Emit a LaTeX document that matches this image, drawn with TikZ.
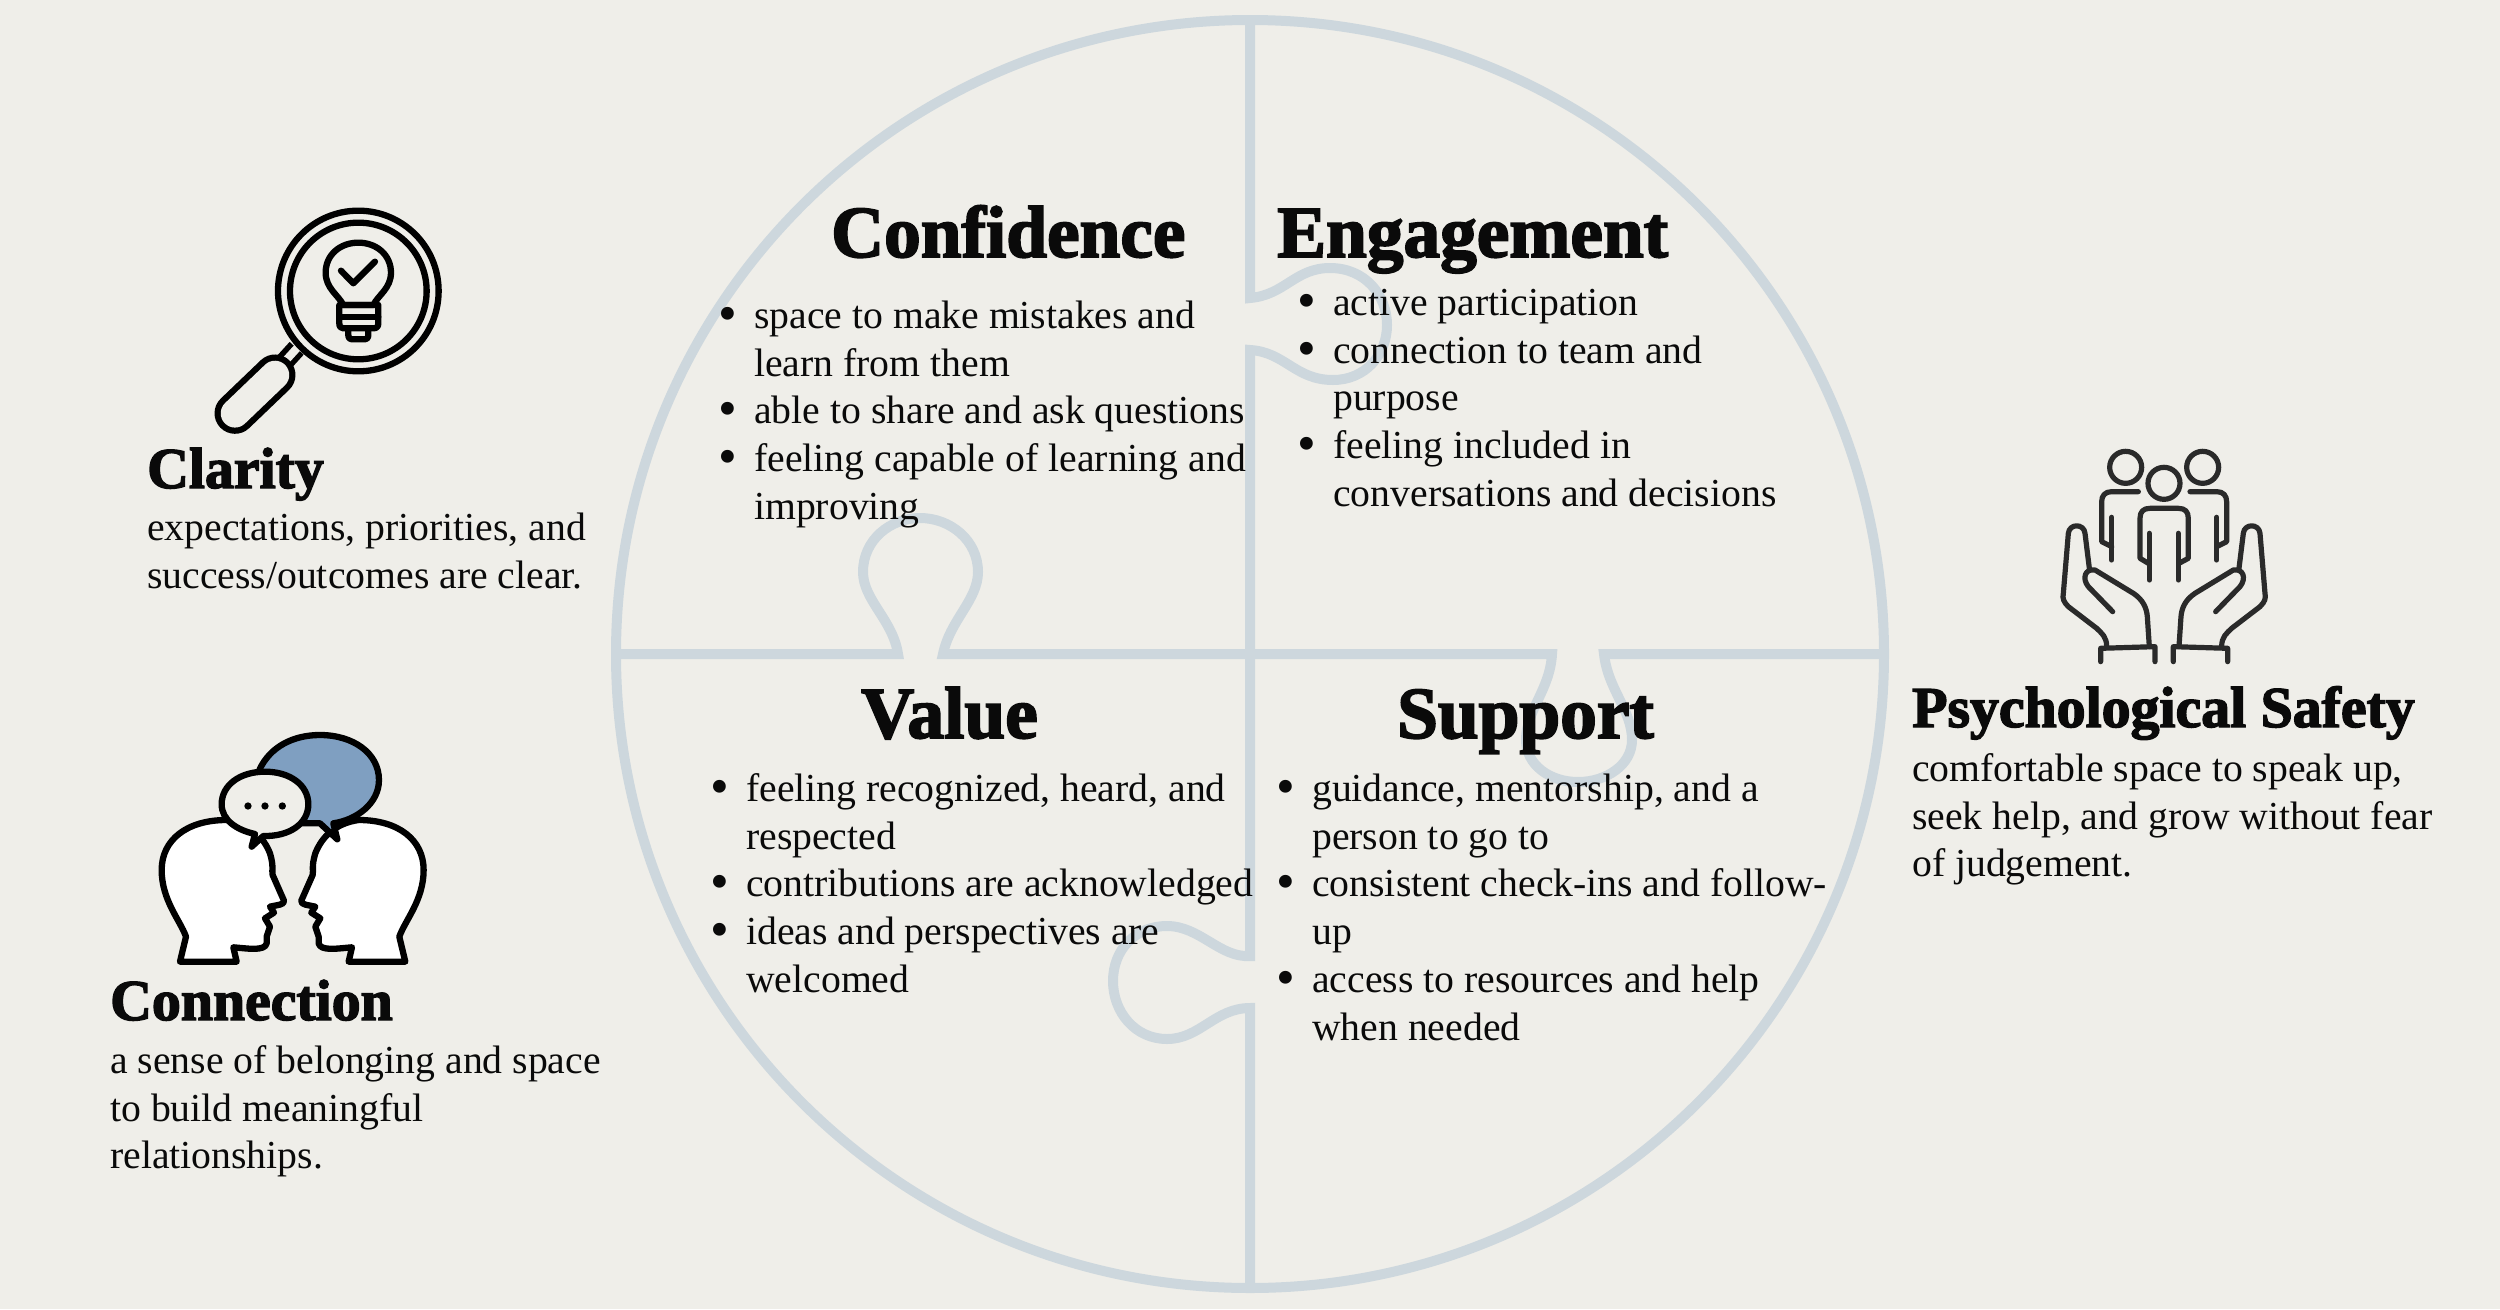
\documentclass[tikz,border=0pt]{standalone}
\usepackage{fontspec}
\setmainfont{Liberation Serif}
\newfontfamily\ttlfont[UprightFont={* Bold},FakeBold=2.5]{Liberation Serif}
\definecolor{bgc}{HTML}{EFEEE9}
\definecolor{puz}{HTML}{CDD7DD}
\definecolor{ink}{HTML}{0A0A0A}
\definecolor{blueb}{HTML}{7F9FC1}
\definecolor{dark}{HTML}{2A2A2A}
\newcommand{\bl}{\makebox[0pt][r]{\makebox[36pt][l]{\raisebox{-3pt}{\scalebox{1.35}{•}}}}}
\newcommand{\fl}{\rule{0pt}{30pt}}
\tikzset{
  puzzle/.style={draw=puz,line width=10pt,line join=miter},
  bigtitle/.style={inner sep=0pt,anchor=base west,text=ink,font=\ttlfont\fontsize{73.3}{73}\selectfont},
  sidetitle/.style={inner sep=0pt,anchor=base west,text=ink,font=\ttlfont\fontsize{57.8}{58}\selectfont},
  bodytext/.style={inner sep=0pt,anchor=north west,align=left,text=ink,font=\fontsize{39.7}{47.8}\selectfont},
  icon/.style={draw=black,line width=6.3pt,line cap=round,line join=round},
  handicon/.style={draw=dark,line width=5.2pt,line cap=round,line join=round}
}
\begin{document}
\begin{tikzpicture}[x=1pt,y=-1pt]
\useasboundingbox (0,0) rectangle (2500,1309);
\fill[bgc] (0,0) rectangle (2500,1309);
% puzzle
\draw[puzzle] (1250,654) circle[radius=634];
\draw[puzzle] (1250,22) -- (1250,298) .. controls (1285,295) and (1295,268) .. (1330,268) .. controls (1365,268) and (1387,295) .. (1387,325) .. controls (1387,355) and (1365,380) .. (1333,380) .. controls (1295,380) and (1285,352) .. (1250,350) -- (1250,956) .. controls (1220,958) and (1200,926) .. (1167,926) .. controls (1135,926) and (1113,950) .. (1113,981) .. controls (1113,1012) and (1135,1039) .. (1167,1039) .. controls (1200,1039) and (1215,1008) .. (1250,1008) -- (1250,1285);
\draw[puzzle] (616,654) -- (898,654) .. controls (893,620) and (863,600) .. (863,572) .. controls (863,540) and (890,518) .. (920,518) .. controls (950,518) and (978,540) .. (978,572) .. controls (978,600) and (950,620) .. (943,654) -- (1552,654) .. controls (1550,690) and (1526,710) .. (1526,740) .. controls (1526,765) and (1550,782) .. (1578,782) .. controls (1606,782) and (1632,765) .. (1632,740) .. controls (1632,710) and (1608,690) .. (1604,654) -- (1885,654);
% titles
\node[bigtitle] (tconf) at (831,257) {Confidence};
\node[bigtitle] (teng) at (1277,257) {Engagement};
\node[bigtitle] (tval) at (861,738) {Value};
\node[bigtitle] (tsup) at (1397,738) {Support};
\node[sidetitle] (tcla) at (147,488) {Clarity};
\node[sidetitle] (tcon) at (110,1020) {Connection};
\node[sidetitle] (tpsy) at (1912,727) {Psychological Safety};
% body
\node[bodytext] (bconf) at (754,298) {\fl\bl space to make mistakes and\\learn from them\\\bl able to share and ask questions\\\bl feeling capable of learning and\\improving};
\node[bodytext] (beng) at (1333,285) {\fl\bl active participation\\\bl connection to team and\\purpose\\\bl feeling included in\\conversations and decisions};
\node[bodytext] (bval) at (746,771) {\fl\bl feeling recognized, heard, and\\respected\\\bl contributions are acknowledged\\\bl ideas and perspectives are\\welcomed};
\node[bodytext] (bsup) at (1312,771) {\fl\bl guidance, mentorship, and a\\person to go to\\\bl consistent check-ins and follow-\\up\\\bl access to resources and help\\when needed};
\node[bodytext] (bcla) at (147,510) {\fl expectations, priorities, and\\success/outcomes are clear.};
\node[bodytext] (bcon) at (110,1043) {\fl a sense of belonging and space\\to build meaningful\\relationships.};
\node[bodytext] (bpsy) at (1912,751) {\fl comfortable space to speak up,\\seek help, and grow without fear\\of judgement.};
% magnifier icon
\begin{scope}[shift={(180pt,-180pt)},x=0.3333pt,y=-0.3333pt]
\draw[line width=19pt,black] (350,505) -- (300,560);
\draw[line width=8pt,bgc] (355,500) -- (305,555);
\draw[icon,line width=41pt] (165,700) -- (285,585);
\draw[bgc,line width=28.5pt,line cap=round] (165,700) -- (285,585);
\draw[icon] (535,333) circle[radius=241];
\draw[icon] (535,333) circle[radius=205];
\draw[icon] (490,375) .. controls (475,345) and (437,325) .. (437,278) .. controls (437,225) and (480,188) .. (535,188) .. controls (590,188) and (633,225) .. (633,278) .. controls (633,325) and (595,345) .. (580,375) -- cycle;
\draw[icon] (478,375) -- (595,375) -- (595,430) .. controls (595,440) and (590,445) .. (580,445) -- (490,445) .. controls (482,445) and (478,440) .. (478,430) -- cycle;
\draw[icon] (478,410) -- (595,410);
\draw[icon] (505,445) -- (505,465) .. controls (505,475) and (510,478) .. (520,478) -- (550,478) .. controls (560,478) and (565,475) .. (565,465) -- (565,445);
\draw[icon] (483,272) -- (520,310) -- (585,245);
\end{scope}
% heads icon
\begin{scope}[shift={(130pt,-710pt)},x=0.3333pt,y=-0.3333pt]
\foreach \mir/\off in {1/0,-1/976}{
\begin{scope}[shift={(\off*0.3333pt,0pt)},xscale=\mir]
\draw[icon,fill=white] (150,755) -- (168,680) .. controls (150,630) and (95,570) .. (95,480) .. controls (95,390) and (170,330) .. (290,330) .. controls (360,340) and (400,380) .. (420,430) .. controls (432,470) and (425,480) .. (428,495) -- (462,572) .. controls (465,585) and (440,585) .. (420,590) -- (432,608) -- (405,625) -- (420,650) -- (410,680) -- (410,700) .. controls (405,725) and (350,715) .. (310,712) -- (320,755) -- cycle;
\end{scope}}
\draw[icon,fill=blueb] (388,180) .. controls (420,110) and (490,75) .. (570,75) .. controls (670,75) and (747,130) .. (747,210) .. controls (747,280) and (680,330) .. (610,340) -- (622,388) -- (570,340) -- (510,340) -- cycle;
\draw[icon,fill=bgc] (405,185) .. controls (480,185) and (535,225) .. (535,283) .. controls (535,340) and (480,380) .. (400,378) -- (365,410) -- (375,372) .. controls (320,360) and (275,330) .. (275,283) .. controls (275,225) and (330,185) .. (405,185) -- cycle;
\fill[black] (354,288) circle[radius=11] (405,288) circle[radius=11] (457,288) circle[radius=11];
\end{scope}
% hands icon
\begin{scope}[shift={(2030pt,-430pt)},x=0.3333pt,y=-0.3333pt]
\draw[handicon] (402,160) circle[radius=48];
\draw[handicon] (355,400) -- (330,385) -- (330,265) .. controls (330,245) and (340,235) .. (360,235) -- (445,235) .. controls (465,235) and (475,245) .. (475,265) -- (475,385) -- (447,400);
\draw[handicon] (358,310) -- (358,450);
\draw[handicon] (445,310) -- (445,450);
\foreach \mir/\off in {1/0,-1/805}{
\begin{scope}[shift={(\off*0.3333pt,0pt)},xscale=\mir]
\draw[handicon] (287,112) circle[radius=48];
\draw[handicon] (325,185) -- (245,185) .. controls (225,185) and (215,197) .. (215,215) -- (215,335) -- (245,350);
\draw[handicon] (245,262) -- (245,390);
\draw[handicon] (230,650) .. controls (230,620) and (215,610) .. (200,595) -- (115,530) .. controls (100,515) and (97,505) .. (100,490) -- (115,310) .. controls (118,280) and (162,280) .. (165,310) -- (178,415);
\draw[handicon] (248,545) -- (175,470) .. controls (155,445) and (165,415) .. (195,420) -- (310,490) .. controls (340,510) and (350,535) .. (352,560) -- (358,650);
\draw[handicon] (212,695) -- (212,655) -- (375,650) -- (375,695);
\end{scope}}
\end{scope}
\end{tikzpicture}
\end{document}
